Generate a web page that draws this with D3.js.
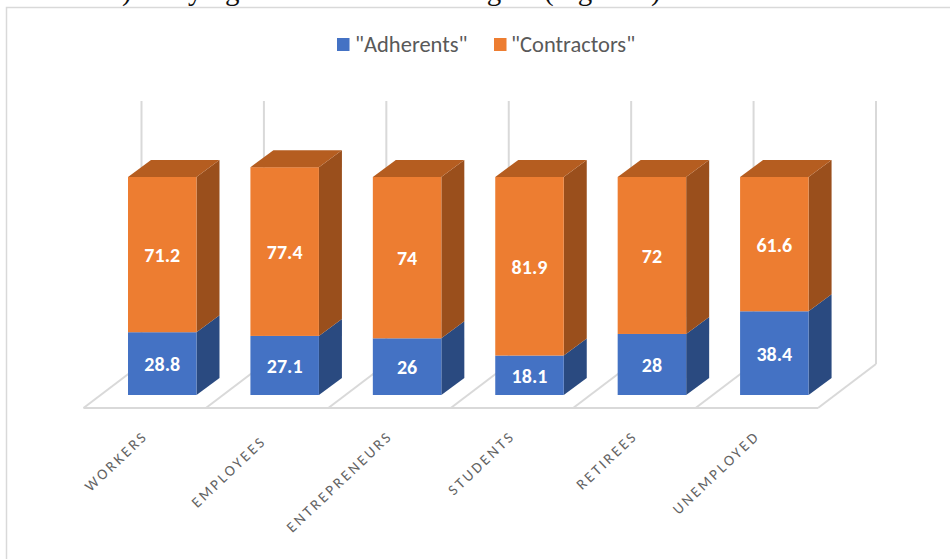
<!DOCTYPE html>
<html><head><meta charset="utf-8">
<style>html,body{margin:0;padding:0;background:#fff}svg{display:block}</style>
<script src="https://cdnjs.cloudflare.com/ajax/libs/d3/7.8.5/d3.min.js"></script>
</head><body><svg id="c" width="950" height="559"></svg>
<script>
const categories = ["WORKERS","EMPLOYEES","ENTREPRENEURS","STUDENTS","RETIREES","UNEMPLOYED"];
const adherents = [28.8,27.1,26,18.1,28,38.4];
const contractors = [71.2,77.4,74,81.9,72,61.6];
const seriesNames = ['"Adherents"','"Contractors"'];
const font = "Calibri, Carlito, 'Open Sans', 'Noto Sans', sans-serif";
const svg = d3.select("#c");
const dx = 23, dy = -17;
const floorDx = 58, floorDy = -44;
const xFloor = d3.scaleBand().domain(categories).range([83.5,818]);
const barOffset = 44.5, barWidth = 68.5;
const y = d3.scaleLinear().domain([0,100]).range([395,177]);
const floorY = 408;
const grid = "#d9d9d9";
// text of the page above the chart, cut by the crop
[[") ",122],["varying",151],["wages",453],["(Figure 5)",544]].forEach(([t,px])=>{
  svg.append("text").attr("x",px).attr("y",-0.5).attr("font-family","'Liberation Serif',serif").attr("font-size",29).attr("fill","#111").text(t);
});
svg.append("rect").attr("x",0).attr("y",8).attr("width",950).attr("height",551).attr("fill","#fff");
svg.append("path").attr("d","M6.5,559V7.5H950").attr("fill","none").attr("stroke",grid).attr("stroke-width",1.5);
// floor and back grid
const ticks = categories.map(c=>xFloor(c)).concat([818]);
const g = svg.append("g").attr("fill","none").attr("stroke",grid).attr("stroke-width",2);
g.append("line").attr("x1",83.5).attr("x2",818).attr("y1",floorY).attr("y2",floorY);
ticks.forEach(t=>{
  g.append("line").attr("x1",t).attr("y1",floorY).attr("x2",t+floorDx).attr("y2",floorY+floorDy);
  g.append("line").attr("x1",t+floorDx).attr("y1",floorY+floorDy).attr("x2",t+floorDx).attr("y2",101);
});
// bars
const colors = [{f:"#4472c4",s:"#2a4a80"},{f:"#ed7d31",s:"#9a4f1c",t:"#b55d20"}];
const labelShift = [0,-4,0,0,0,0], labelDrop = [0,5,0,0,0,0];
categories.forEach((c,i)=>{
  const x0=xFloor(c)+barOffset, w=barWidth, a=adherents[i], b=contractors[i];
  [[0,a,colors[0],a],[a,a+b,colors[1],b]].forEach(([v0,v1,col,val])=>{
    svg.append("path").attr("fill",col.s).attr("d",`M${x0+w},${y(v0)}l${dx},${dy}V${y(v1)+dy}l${-dx},${-dy}Z`);
    svg.append("rect").attr("x",x0).attr("y",y(v1)).attr("width",w).attr("height",y(v0)-y(v1)).attr("fill",col.f);
    svg.append("text").attr("x",x0+w/2).attr("y",(y(v0)+y(v1))/2+7.5).attr("text-anchor","middle")
      .attr("font-family",font).attr("font-weight",700).attr("font-size",20).attr("fill","#fff").text(val);
  });
  svg.append("path").attr("fill",colors[1].t).attr("d",`M${x0},${y(a+b)}l${dx},${dy}h${w}l${-dx},${-dy}Z`);
  svg.append("text").attr("transform",`translate(${x0+13+labelShift[i]},${429+labelDrop[i]}) rotate(-43.5)`).attr("text-anchor","end")
    .attr("dominant-baseline","hanging").attr("font-family",font).attr("font-size",15).attr("letter-spacing",2.7).attr("fill","#636363").text(c);
});
// legend
const lx=[337,494], tx=[355,511];
seriesNames.forEach((n,i)=>{
  svg.append("rect").attr("x",lx[i]).attr("y",38).attr("width",12.5).attr("height",13).attr("fill",colors[i].f);
  svg.append("text").attr("x",tx[i]).attr("y",52).attr("font-family",font).attr("font-size",22.5).attr("fill","#595959").text(n);
});
</script></body></html>
